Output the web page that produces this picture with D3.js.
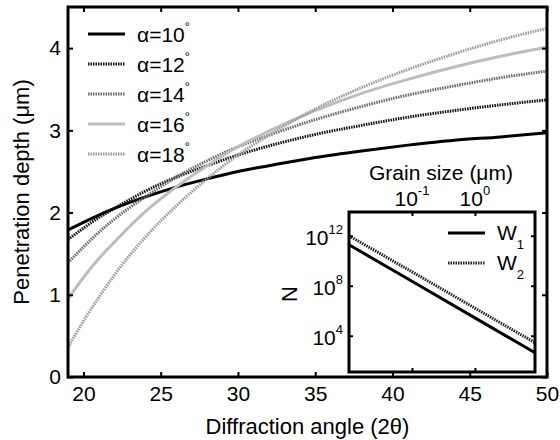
<!DOCTYPE html>
<html>
<head>
<meta charset="utf-8">
<script src="https://cdn.jsdelivr.net/npm/d3@7"></script>
<style>
  body { margin: 0; background: #fff; }
  text { font-family: "Liberation Sans", Arial, sans-serif; fill: #000; }
</style>
</head>
<body>
<script>
// diffraction angle (2theta) samples
const angles = [19, 20, 21, 22, 24, 26, 28, 30, 32, 35, 38, 41, 44, 47, 50];
const alphas = [10, 12, 14, 16, 18];
const depth10 = [1.79, 1.88, 1.97, 2.05, 2.19, 2.31, 2.41, 2.50, 2.57, 2.67, 2.75, 2.82, 2.88, 2.92, 2.97];
const depth12 = [1.67, 1.81, 1.94, 2.05, 2.26, 2.43, 2.57, 2.70, 2.81, 2.95, 3.06, 3.16, 3.24, 3.31, 3.37];
const depth14 = [1.39, 1.58, 1.76, 1.92, 2.19, 2.43, 2.63, 2.80, 2.94, 3.13, 3.29, 3.43, 3.54, 3.64, 3.72];
const depth16 = [0.95, 1.21, 1.44, 1.64, 2.01, 2.31, 2.57, 2.80, 2.99, 3.24, 3.45, 3.62, 3.77, 3.90, 4.01];
const depth18 = [0.36, 0.68, 0.97, 1.24, 1.70, 2.08, 2.41, 2.70, 2.94, 3.26, 3.52, 3.74, 3.93, 4.10, 4.24];
const xTicks = [20, 25, 30, 35, 40, 45, 50];
const yTicks = [0, 1, 2, 3, 4];

// inset: number of grains vs grain size
const grainSizes = [0.01, 0.1, 1, 9];
const nW1 = [1.9e11, 2.3e8, 2.7e5, 4.4e2];
const nW2 = [1.0e12, 1.3e9, 1.6e6, 2.8e3];
const insetXTicks = [0.1, 1];
const insetYTicks = [1e4, 1e8, 1e12];

const width = 560, height = 440;
const margin = { top: 7, right: 13, bottom: 63, left: 68 };
const w = width - margin.left - margin.right;
const h = height - margin.top - margin.bottom;

const svg = d3.select('body').append('svg')
    .attr('width', width)
    .attr('height', height);

const g = svg.append('g')
    .attr('transform', `translate(${margin.left},${margin.top})`);

const x = d3.scaleLinear().domain([19, 50]).range([0, w]);
const y = d3.scaleLinear().domain([0, 4.5]).range([h, 0]);

svg.append('defs').append('clipPath').attr('id', 'clip')
  .append('rect').attr('width', w).attr('height', h);

const styles = [
  { data: depth10, color: '#000', dash: null },
  { data: depth12, color: '#111', dash: '1.5,1' },
  { data: depth14, color: '#6a6a6a', dash: '1.5,1' },
  { data: depth16, color: '#bdbdbd', dash: null },
  { data: depth18, color: '#9a9a9a', dash: '1.5,1' }
];

const line = d3.line()
    .x(d => x(d[0]))
    .y(d => y(d[1]))
    .curve(d3.curveMonotoneX);

g.append('g').attr('clip-path', 'url(#clip)')
  .selectAll('path')
  .data(styles)
  .enter()
  .append('path')
    .attr('d', s => line(angles.map((a, i) => [a, s.data[i]])))
    .attr('fill', 'none')
    .attr('stroke', s => s.color)
    .attr('stroke-width', 3)
    .attr('stroke-dasharray', s => s.dash);

// axes, matlab style: inward ticks on all four sides
const tickLen = 5;
g.append('g').attr('transform', `translate(0,${h})`)
    .call(d3.axisBottom(x).tickValues(xTicks).tickSizeInner(-tickLen).tickSizeOuter(0).tickPadding(9));
g.append('g')
    .call(d3.axisLeft(y).tickValues(yTicks).tickSizeInner(-tickLen).tickSizeOuter(0).tickPadding(7).tickFormat(d3.format('d')));
g.append('g')
    .call(d3.axisTop(x).tickValues(xTicks).tickSizeInner(-tickLen).tickSizeOuter(0).tickFormat(''));
g.append('g').attr('transform', `translate(${w},0)`)
    .call(d3.axisRight(y).tickValues(yTicks).tickSizeInner(-tickLen).tickSizeOuter(0).tickFormat(''));

g.selectAll('.domain').remove();
g.selectAll('.tick line').attr('stroke', '#000').attr('stroke-width', 2);
g.selectAll('.tick text').style('font-size', '21px').attr('fill', '#000');
g.append('rect')
    .attr('width', w).attr('height', h)
    .attr('fill', 'none').attr('stroke', '#000').attr('stroke-width', 3);

// axis titles
svg.append('text')
    .attr('x', margin.left + w / 2)
    .attr('y', 434)
    .attr('text-anchor', 'middle')
    .style('font-size', '22px')
    .text('Diffraction angle (2θ)');

svg.append('text')
    .attr('transform', `translate(29,${margin.top + h / 2}) rotate(-90)`)
    .attr('text-anchor', 'middle')
    .style('font-size', '22px')
    .text('Penetration depth (μm)');

// legend
const legend = g.append('g').attr('transform', 'translate(20,27)');
const rows = legend.selectAll('g').data(styles).enter().append('g')
    .attr('transform', (d, i) => `translate(0,${i * 30})`);
rows.append('line')
    .attr('x1', 0).attr('x2', 37)
    .attr('stroke', s => s.color)
    .attr('stroke-width', 3)
    .attr('stroke-dasharray', s => s.dash);
const lt = rows.append('text')
    .attr('x', 49).attr('y', 8)
    .style('font-size', '21px');
lt.append('tspan').text((d, i) => 'α=' + alphas[i]);
lt.append('tspan').attr('dy', -11).style('font-size', '13px').text('°');

// inset
const inset = { left: 349, top: 212, right: 535, bottom: 372 };
const iw = inset.right - inset.left, ih = inset.bottom - inset.top;
const ig = svg.append('g').attr('transform', `translate(${inset.left},${inset.top})`);

const ix = d3.scaleLog().domain([0.01, 9]).range([0, iw]);
const iy = d3.scaleLog().domain([Math.pow(10, 1.1), Math.pow(10, 13.9)]).range([ih, 0]);

ig.append('rect').attr('width', iw).attr('height', ih).attr('fill', '#fff');

const iline = d3.line().x(d => ix(d[0])).y(d => iy(d[1]));
const insetSeries = [
  { data: nW1, color: '#000', dash: null, name: 'W', sub: '1' },
  { data: nW2, color: '#222', dash: '1.5,1', name: 'W', sub: '2' }
];
ig.selectAll('path.n')
  .data(insetSeries)
  .enter()
  .append('path')
    .attr('class', 'n')
    .attr('d', s => iline(grainSizes.map((v, i) => [v, s.data[i]])))
    .attr('fill', 'none')
    .attr('stroke', s => s.color)
    .attr('stroke-width', 3)
    .attr('stroke-dasharray', s => s.dash);

ig.append('g')
    .call(d3.axisTop(ix).tickValues(insetXTicks).tickSizeInner(-4).tickSizeOuter(0).tickFormat(''));
ig.append('g').attr('transform', `translate(0,${ih})`)
    .call(d3.axisBottom(ix).tickValues(insetXTicks).tickSizeInner(-4).tickSizeOuter(0).tickFormat(''));
ig.append('g')
    .call(d3.axisLeft(iy).tickValues(insetYTicks).tickSizeInner(-4).tickSizeOuter(0).tickFormat(''));
ig.append('g').attr('transform', `translate(${iw},0)`)
    .call(d3.axisRight(iy).tickValues(insetYTicks).tickSizeInner(-4).tickSizeOuter(0).tickFormat(''));
ig.selectAll('.domain').remove();
ig.selectAll('.tick line').attr('stroke', '#000').attr('stroke-width', 2);
ig.append('rect').attr('width', iw).attr('height', ih)
    .attr('fill', 'none').attr('stroke', '#000').attr('stroke-width', 3);

// inset tick labels with superscript exponents
const ixl = ig.selectAll('text.xl').data(insetXTicks).enter().append('text')
    .attr('class', 'xl')
    .attr('x', d => ix(d))
    .attr('y', -6)
    .attr('text-anchor', 'middle')
    .style('font-size', '21px');
ixl.append('tspan').text('10');
ixl.append('tspan').attr('dy', -11).style('font-size', '13px').text(d => Math.round(Math.log10(d)));

const iyl = ig.selectAll('text.yl').data(insetYTicks).enter().append('text')
    .attr('class', 'yl')
    .attr('x', -6)
    .attr('y', d => iy(d) + 9)
    .attr('text-anchor', 'end')
    .style('font-size', '21px');
iyl.append('tspan').text('10');
iyl.append('tspan').attr('dy', -11).style('font-size', '13px').text(d => Math.round(Math.log10(d)));

svg.append('text')
    .attr('x', 441).attr('y', 180)
    .attr('text-anchor', 'middle')
    .style('font-size', '21px')
    .text('Grain size (μm)');

svg.append('text')
    .attr('transform', `translate(297,${inset.top + ih / 2 + 2}) rotate(-90)`)
    .attr('text-anchor', 'middle')
    .style('font-size', '22px')
    .text('N');

// inset legend
const ileg = ig.append('g').attr('transform', 'translate(99,21)');
const irows = ileg.selectAll('g').data(insetSeries).enter().append('g')
    .attr('transform', (d, i) => `translate(0,${i * 30})`);
irows.append('line')
    .attr('x1', 0).attr('x2', 37)
    .attr('stroke', s => s.color)
    .attr('stroke-width', 3)
    .attr('stroke-dasharray', s => s.dash);
const it = irows.append('text').attr('x', 49).attr('y', 7).style('font-size', '21px');
it.append('tspan').text(s => s.name);
it.append('tspan').attr('dy', 9).style('font-size', '13px').text(s => s.sub);
</script>
</body>
</html>
